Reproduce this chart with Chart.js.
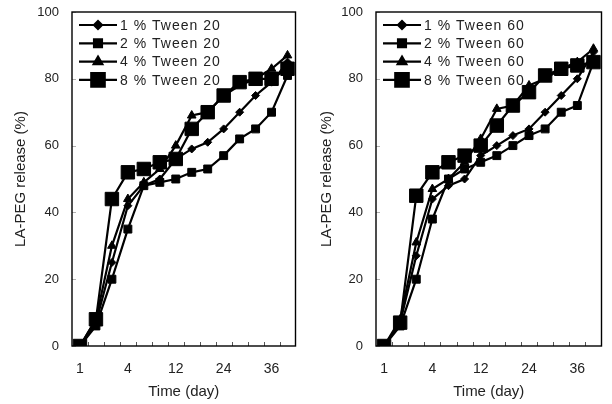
<!DOCTYPE html>
<html>
<head>
<meta charset="utf-8">
<script src="https://cdn.jsdelivr.net/npm/chart.js@4.4.1/dist/chart.umd.min.js"></script>
<style>
  html, body { margin: 0; padding: 0; background: #fff; }
  .wrap { display: flex; width: 612px; height: 404px; }
  .panel { width: 306px; height: 404px; }
  canvas { display: block; }
</style>
</head>
<body>
<div class="wrap">
  <div class="panel"><canvas id="tween20" width="306" height="404"></canvas></div>
  <div class="panel"><canvas id="tween60" width="306" height="404"></canvas></div>
</div>
<script>
// sampling days (category axis), only some of them get a label
const days = ["1", "2", "3", "4", "6", "9", "12", "16", "20", "24", "28", "32", "36", "40"];
const labeledDays = ["1", "4", "12", "24", "36"];

// LA-PEG release (%) with Tween 20
const t20_1 = [0, 7, 25, 42, 48, 50, 56, 59, 61, 65, 70, 75, 79, 85];
const t20_2 = [0, 6, 20, 35, 48, 49, 50, 52, 53, 57, 62, 65, 70, 81];
const t20_4 = [0, 8, 30, 44, 49, 53, 60, 69, 70, 75, 78, 80, 83, 87];
const t20_8 = [0, 8, 44, 52, 53, 55, 56, 65, 70, 75, 79, 80, 80, 83];

// LA-PEG release (%) with Tween 60
const t60_1 = [0, 7, 27, 44, 48, 50, 57, 60, 63, 65, 70, 75, 80, 88];
const t60_2 = [0, 6, 20, 38, 50, 53, 55, 57, 60, 63, 65, 70, 72, 85];
const t60_4 = [0, 8, 31, 47, 50, 55, 62, 71, 72, 78, 80, 83, 85, 89];
const t60_8 = [0, 7, 45, 52, 55, 57, 60, 66, 72, 76, 81, 83, 84, 85];

const concentrations = ["1 %", "2 %", "4 %", "8 %"];

const markers = [
  { pointStyle: "rectRot", radius: 4 },
  { pointStyle: "rect", radius: 5.6 },
  { pointStyle: "triangle", radius: 5 },
  { pointStyle: "rect", radius: 9.5 },
];

const textColor = "#222";
const fontFamily = "'Liberation Sans', Arial, sans-serif";

// box around the plot, small inward tick marks
const framePlugin = {
  id: "frame",
  beforeDatasetsDraw(chart) {
    const { ctx, chartArea: a, scales } = chart;
    const x = scales.x, y = scales.y;
    ctx.save();
    ctx.lineWidth = 1;
    ctx.strokeStyle = "#b0b0b0";
    y.ticks.forEach((t, i) => {
      const py = Math.round(y.getPixelForTick(i)) + 0.5;
      ctx.beginPath();
      ctx.moveTo(a.left, py);
      ctx.lineTo(a.left + 4, py);
      ctx.stroke();
    });
    ctx.strokeStyle = "#555";
    for (let i = 1; i < days.length; i++) {
      const px = Math.round(x.getPixelForValue(i - 0.5)) + 0.5;
      ctx.beginPath();
      ctx.moveTo(px, a.bottom);
      ctx.lineTo(px, a.bottom - 4);
      ctx.stroke();
    }
    ctx.lineWidth = 1.4;
    ctx.strokeStyle = "#000";
    ctx.strokeRect(a.left, a.top, a.right - a.left, a.bottom - a.top);
    ctx.restore();
  },
};

// legend drawn inside the plot, line + marker like the data
const innerLegend = {
  id: "innerLegend",
  afterDatasetsDraw(chart) {
    const { ctx, chartArea: a } = chart;
    ctx.save();
    chart.data.datasets.forEach((ds, i) => {
      const yy = a.top + 13 + i * 18.3;
      const x0 = a.left + 7, x1 = a.left + 45;
      ctx.strokeStyle = "#000";
      ctx.fillStyle = "#000";
      ctx.lineWidth = 2.2;
      ctx.beginPath();
      ctx.moveTo(x0, yy);
      ctx.lineTo(x1, yy);
      ctx.stroke();
      Chart.helpers.drawPoint(ctx, {
        pointStyle: ds.pointStyle,
        radius: ds.pointRadius,
        rotation: 0,
        borderWidth: 1,
      }, (x0 + x1) / 2, yy);
      ctx.fillStyle = textColor;
      ctx.font = "14px " + fontFamily;
      ctx.letterSpacing = "1px";
      ctx.textBaseline = "middle";
      ctx.textAlign = "left";
      ctx.fillText(ds.label, a.left + 48, yy + 1);
    });
    ctx.restore();
  },
};

function makeChart(id, series, surfactant, axisWidth, padRight) {
  const datasets = series.map((values, i) => ({
    label: concentrations[i] + " " + surfactant,
    data: values,
    order: series.length - i,
    borderColor: "#000",
    backgroundColor: "#000",
    borderWidth: 2.2,
    pointStyle: markers[i].pointStyle,
    pointRadius: markers[i].radius,
    pointHoverRadius: markers[i].radius,
    pointBackgroundColor: "#000",
    pointBorderColor: "#000",
    pointBorderWidth: 1,
    tension: 0,
    fill: false,
  }));

  new Chart(document.getElementById(id).getContext("2d"), {
    type: "line",
    data: { labels: days, datasets: datasets },
    options: {
      responsive: false,
      animation: false,
      layout: { padding: { top: 12, right: padRight, bottom: 0, left: 0 } },
      plugins: {
        legend: { display: false },
        tooltip: { enabled: false },
      },
      scales: {
        x: {
          type: "category",
          offset: true,
          grid: { display: false, drawTicks: false },
          border: { display: false },
          ticks: {
            autoSkip: false,
            maxRotation: 0,
            padding: 15,
            color: textColor,
            font: { family: fontFamily, size: 14 },
            callback: function (value, index) {
              return labeledDays.includes(days[index]) ? days[index] : "";
            },
          },
          title: {
            display: true,
            text: "Time (day)",
            color: textColor,
            font: { family: fontFamily, size: 15 },
            padding: { top: 0, bottom: 3 },
          },
          afterFit: function (scale) {
            scale.height = 58;
            scale.paddingLeft = 0;
            scale.paddingRight = 0;
          },
        },
        y: {
          min: 0,
          max: 100,
          grid: { display: false, drawTicks: false },
          border: { display: false },
          ticks: {
            stepSize: 20,
            padding: 13,
            color: textColor,
            font: { family: fontFamily, size: 13 },
          },
          title: {
            display: true,
            text: "LA-PEG release (%)",
            color: textColor,
            font: { family: fontFamily, size: 15 },
            padding: { top: 12, bottom: 0 },
          },
          afterFit: function (scale) {
            scale.width = axisWidth;
            scale.paddingTop = 0;
            scale.paddingBottom = 0;
          },
        },
      },
    },
    plugins: [framePlugin, innerLegend],
  });
}

makeChart("tween20", [t20_1, t20_2, t20_4, t20_8], "Tween 20", 72, 8);
makeChart("tween60", [t60_1, t60_2, t60_4, t60_8], "Tween 60", 70, 7);
</script>
</body>
</html>
